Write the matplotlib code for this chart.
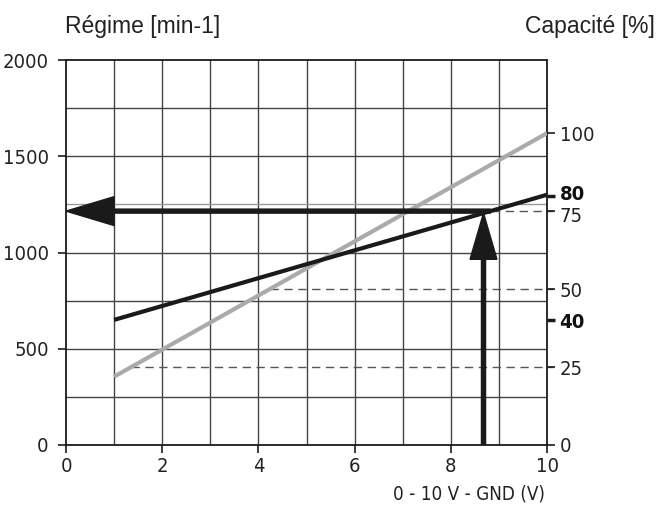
import matplotlib.pyplot as plt
import matplotlib.transforms as mtransforms
from matplotlib.patches import FancyArrow

x_lines = [1, 10]
gris_rpm = [355, 1620]        # courbe grise (capacite 22 -> 100 %)
noir_rpm = [650, 1300]        # courbe noire (40 -> 80 %)
tirets_cap = [25, 50, 75]
x_ticks = [0, 2, 4, 6, 8, 10]
y_ticks = [0, 500, 1000, 1500, 2000]
cap_ticks = [0, 25, 50, 75, 100]
cap_gras = [40, 80]
rpm_par_pct = 16.2            # 100 % = 1620 min-1
fleche_x = 8.68               # fleche verticale
fleche_rpm = 1215             # fleche horizontale

plt.rcParams['font.family'] = ['DejaVu Sans']
plt.rcParams['font.stretch'] = 'condensed'

fig = plt.figure(figsize=(6.62, 5.07), dpi=100)
ax = fig.add_axes([66/662, 62/507, 481/662, 385/507])
ax.set_xlim(0, 10)
ax.set_ylim(0, 2000)

# grille
for gx in range(1, 10):
    ax.axvline(gx, color='#444444', lw=1, zorder=1)
for gy in range(250, 2000, 250):
    ax.axhline(gy, color='#999999' if gy == 1250 else '#444444', lw=1, zorder=1)

# courbes
ax.plot(x_lines, gris_rpm, color='#aaaaaa', lw=3, zorder=3, solid_capstyle='butt')
ax.plot(x_lines, noir_rpm, color='#1a1a1a', lw=3, zorder=4, solid_capstyle='butt')

# tirets de capacite, depuis la courbe grise jusqu'a l'axe de droite
pente = (gris_rpm[1] - gris_rpm[0]) / (x_lines[1] - x_lines[0])
for c in tirets_cap:
    rpm = c * rpm_par_pct
    x0 = x_lines[0] + (rpm - gris_rpm[0]) / pente
    ax.plot([x0, 10.13], [rpm, rpm], color='#555555', lw=1, ls=(0, (6, 4)),
            zorder=2, clip_on=False)

# fleches
pente_n = (noir_rpm[1] - noir_rpm[0]) / (x_lines[1] - x_lines[0])
x_fin = x_lines[0] + (fleche_rpm - noir_rpm[0]) / pente_n
ax.add_patch(FancyArrow(x_fin, fleche_rpm, -x_fin, 0, width=21, head_width=150,
                        head_length=1.0, length_includes_head=True,
                        color='#1a1a1a', zorder=5))
y_tip = noir_rpm[0] + (fleche_x - x_lines[0]) * pente_n
ax.add_patch(FancyArrow(fleche_x, 0, 0, y_tip, width=0.085, head_width=0.56,
                        head_length=240, length_includes_head=True,
                        color='#1a1a1a', zorder=5))

for s in ax.spines.values():
    s.set_linewidth(1.3)
    s.set_color('#1a1a1a')

ax.set_xticks(x_ticks)
ax.set_yticks(y_ticks)
ax.tick_params(axis='both', length=6, width=1.2, color='#1a1a1a',
               labelsize=14.5, labelcolor='#222222')
ax.tick_params(axis='y', pad=6.5)
ax.tick_params(axis='x', pad=3)

# axe de droite en %
ax2 = ax.twinx()
ax2.set_ylim(0, 2000 / rpm_par_pct)
ticks2 = sorted(cap_ticks + cap_gras)
ax2.set_yticks(ticks2)
ax2.set_yticklabels([str(t) for t in ticks2])
ax2.tick_params(axis='y', length=6, width=1.2, color='#1a1a1a',
                labelsize=14.5, labelcolor='#222222', pad=3)
for lab, t in zip(ax2.get_yticklabels(), ticks2):
    if t in cap_gras:
        lab.set_fontweight('bold')
        lab.set_color('#111111')
    # 80 et 75 sont serres : on les ecarte un peu
    if t in (80, 75):
        dy = 3 if t == 80 else -3
        lab.set_transform(lab.get_transform() +
                          mtransforms.ScaledTranslation(0, dy / 100, fig.dpi_scale_trans))
for tl, t in zip(ax2.yaxis.get_major_ticks(), ticks2):
    if t in cap_gras:
        tl.tick2line.set_markeredgewidth(2.5)
        tl.tick2line.set_color('#111111')
for s in ax2.spines.values():
    s.set_visible(False)

fig.text(65/662, 1 - 27/507, 'Régime [min-1]', fontsize=16.5, family='Liberation Sans',
         stretch='normal', color='#222222', ha='left', va='center')
fig.text(655/662, 1 - 27/507, 'Capacité [%]', fontsize=16.5, family='Liberation Sans',
         stretch='normal', color='#222222', ha='right', va='center')
fig.text(545/662, 1 - 494/507, '0 - 10 V - GND (V)', fontsize=13.5,
         color='#222222', ha='right', va='center')

fig.savefig('out.png', dpi=100)
